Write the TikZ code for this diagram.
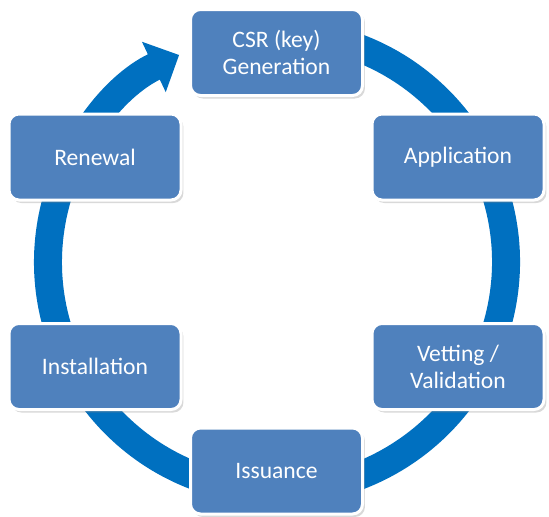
\documentclass[tikz,border=0pt]{standalone}
\usepackage{fontspec}
\setmainfont{Carlito}
\usepackage{tikz}
\usetikzlibrary{arrows.meta,shadows}
\definecolor{boxblue}{HTML}{4F81BD}
\definecolor{ringblue}{HTML}{0070C0}

\begin{document}
\begin{tikzpicture}[x=0.5pt,y=0.5pt,
    stage/.style={rectangle,rounded corners=5pt,draw=white,line width=1.5pt,fill=boxblue,
                  text=white,align=center,minimum width=86pt,minimum height=43pt,
                  font=\fontsize{11.8}{13.5}\selectfont,
                  drop shadow={shadow xshift=1.2pt,shadow yshift=-1.5pt,opacity=0.3}},
    ring/.style={draw=ringblue,line width=14pt,-{Triangle[width=27pt,length=14pt]}}
  ]
  \useasboundingbox (0,0) rectangle (549,516);
  \coordinate (centre) at (277,254);
  \path (centre) ++(80:229) coordinate (ringstart);
% the ring goes round clockwise and ends with the arrow at the first stage
  \draw[ring] (ringstart) arc[start angle=80,end angle=-244.7,radius=229];

  \node[stage] (csr) at (276.5,463.5) {CSR (key)\\Generation};
  \node[stage] (application) at (458,359) {Application};
  \node[stage] (vetting) at (458,149.5) {Vetting /\\Validation};
  \node[stage] (issuance) at (276.5,45) {Issuance};
  \node[stage] (installation) at (95,149.5) {Installation};
  \node[stage] (renewal) at (95,359) {Renewal};
\end{tikzpicture}
\end{document}
